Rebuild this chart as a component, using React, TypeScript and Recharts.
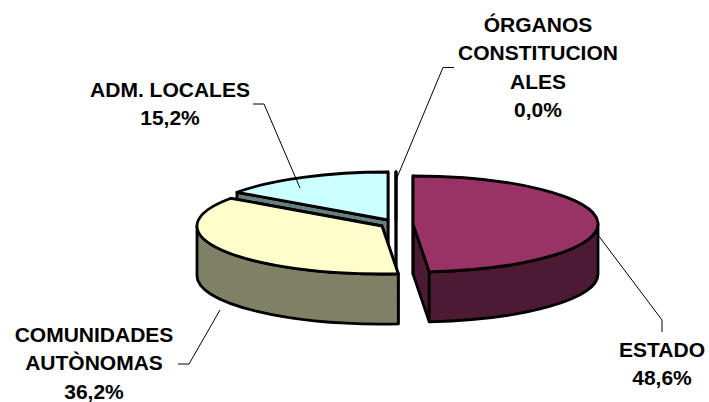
import { PieChart, Pie } from 'recharts';

// Drawn counter-clockwise from 12 o'clock so the overlaps paint back to front
const names = ['ÓRGANOS CONSTITUCIONALES', 'ADM. LOCALES', 'COMUNIDADES AUTÓNOMAS', 'ESTADO'];
const values = [0.0, 15.2, 36.2, 48.6];
const labelLines = [
  ['ÓRGANOS', 'CONSTITUCION', 'ALES'],
  ['ADM. LOCALES'],
  ['COMUNIDADES', 'AUTÒNOMAS'],
  ['ESTADO'],
];

const faceColors = ['#660066', '#CCFFFF', '#FFFFCC', '#993366'];
const wallColors = ['#330033', '#668080', '#808066', '#4D1A33'];

// Slice explosion, relative to the pie centre
const offsets = [
  [-4, -2],
  [-12, -2],
  [-18, 4],
  [13, 2],
];
// Label anchor (centre x, first baseline) and its leader line
const labelPos = [
  { x: 538, y: 32, line: '454,67.5 443,67.5 396,180' },
  { x: 170, y: 97, line: '253,104 264,104 300,188' },
  { x: 94, y: 342, line: '178,364 189,364 220,310' },
  { x: 662, y: 357, line: '598,235 662,320 662,332' },
];

const CX = 400;
const CY = 222;
const RX = 185;
const SQUASH = 48 / 185;
const DEPTH = 50;
const LINE_H = 28.4;

const tableData = names.map((name, i) => ({ name, value: values[i] }));

const Wedge = (props: any) => {
  const { cx, cy, outerRadius, startAngle, endAngle, index } = props;
  const [dx, dy] = offsets[index];
  const x0 = cx + dx;
  const y0 = cy + dy;
  const ry = outerRadius * SQUASH;
  const pt = (a: number, d = 0) => {
    const r = (a * Math.PI) / 180;
    return `${x0 + outerRadius * Math.cos(r)},${y0 - ry * Math.sin(r) + d}`;
  };
  const large = endAngle - startAngle > 180 ? 1 : 0;
  const stroke = { stroke: '#000', strokeWidth: 2.8, strokeLinejoin: 'round' as const };
  const wall = (a: number) =>
    `M${x0},${y0} L${pt(a)} L${pt(a, DEPTH)} L${x0},${y0 + DEPTH} Z`;

  // Only the part of the rim on the near half of the ellipse shows
  const a1 = Math.max(startAngle, 180);
  const a2 = Math.min(endAngle, 360);

  return (
    <g>
      <path d={wall(startAngle)} fill={wallColors[index]} {...stroke} />
      <path d={wall(endAngle)} fill={wallColors[index]} {...stroke} />
      {a2 > a1 && (
        <path
          d={`M${pt(a1)} A${outerRadius},${ry} 0 0 0 ${pt(a2)} L${pt(a2, DEPTH)} A${outerRadius},${ry} 0 0 1 ${pt(a1, DEPTH)} Z`}
          fill={wallColors[index]}
          {...stroke}
        />
      )}
      <path
        d={`M${x0},${y0} L${pt(startAngle)} A${outerRadius},${ry} 0 ${large} 0 ${pt(endAngle)} Z`}
        fill={faceColors[index]}
        {...stroke}
      />
    </g>
  );
};

const SliceLabel = (props: any) => {
  const { index } = props;
  const pos = labelPos[index];
  const lines = [...labelLines[index], `${values[index].toFixed(1).replace('.', ',')}%`];
  return (
    <g>
      <polyline points={pos.line} fill="none" stroke="#000" strokeWidth={1} />
      <text
        textAnchor="middle"
        fontFamily="'Liberation Sans', Arial, sans-serif"
        fontWeight="bold"
        fontSize={21}
        fill="#000"
      >
        {lines.map((t, i) => (
          <tspan key={i} x={pos.x} y={pos.y + i * LINE_H}>
            {t}
          </tspan>
        ))}
      </text>
    </g>
  );
};

const App = () => (
  <div style={{ position: 'absolute', left: 0, top: 0 }}>
    <PieChart width={709} height={402} margin={{ top: 0, right: 0, bottom: 0, left: 0 }}>
      <Pie
        data={tableData}
        dataKey="value"
        nameKey="name"
        cx={CX}
        cy={CY}
        innerRadius={0}
        outerRadius={RX}
        startAngle={90}
        endAngle={450}
        shape={(p: any) => <Wedge {...p} />}
        label={(p: any) => <SliceLabel {...p} />}
        labelLine={false}
        isAnimationActive={false}
      />
    </PieChart>
  </div>
);

export default App;
